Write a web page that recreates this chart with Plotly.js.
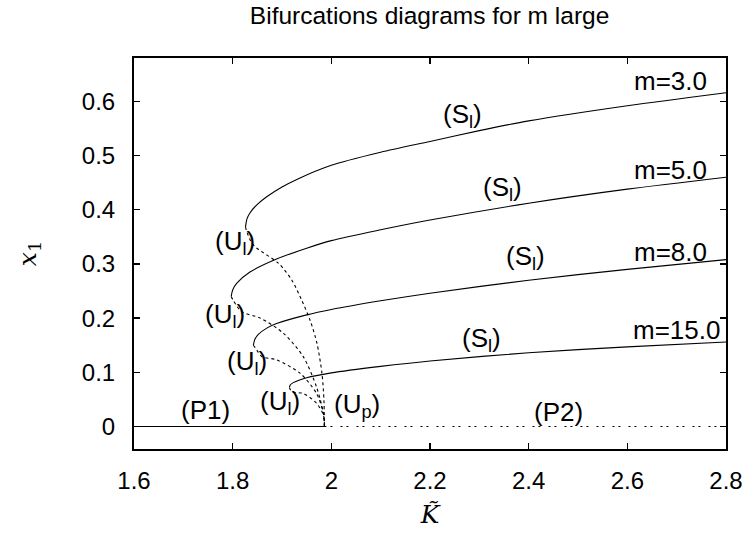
<!DOCTYPE html>
<html>
<head>
<meta charset="utf-8">
<script src="https://cdn.plot.ly/plotly-3.0.1.min.js"></script>
<style>html,body{margin:0;padding:0;background:#fff;}</style>
</head>
<body>
<div id="chart" style="width:753px;height:535px;"></div>
<script>
// Stable branches (S_l)
const K_S3  = [1.826, 1.829, 1.835, 1.850, 1.869, 1.900, 1.930, 2.000, 2.100, 2.200, 2.300, 2.400, 2.600, 2.800];
const X_S3  = [0.368, 0.383, 0.394, 0.410, 0.424, 0.442, 0.456, 0.482, 0.506, 0.526, 0.546, 0.564, 0.592, 0.616];
const K_S5  = [1.797, 1.800, 1.808, 1.835, 1.889, 1.950, 2.000, 2.100, 2.200, 2.400, 2.600, 2.800];
const X_S5  = [0.240, 0.252, 0.264, 0.285, 0.309, 0.329, 0.343, 0.363, 0.381, 0.412, 0.438, 0.460];
const K_S8  = [1.842, 1.845, 1.852, 1.870, 1.889, 1.950, 2.000, 2.100, 2.200, 2.400, 2.600, 2.800];
const X_S8  = [0.150, 0.161, 0.170, 0.182, 0.190, 0.206, 0.216, 0.232, 0.246, 0.270, 0.290, 0.308];
const K_S15 = [1.915, 1.917, 1.923, 1.950, 2.000, 2.100, 2.200, 2.400, 2.600, 2.800];
const X_S15 = [0.072, 0.077, 0.081, 0.090, 0.099, 0.111, 0.121, 0.136, 0.147, 0.156];

// Unstable branches (U_l)
const K_U3  = [1.826, 1.829, 1.835, 1.845, 1.893, 1.920, 1.940, 1.957, 1.971, 1.981, 1.985, 1.986];
const X_U3  = [0.368, 0.359, 0.345, 0.332, 0.301, 0.270, 0.233, 0.196, 0.153, 0.098, 0.049, 0.000];
const K_U5  = [1.797, 1.801, 1.818, 1.856, 1.903, 1.943, 1.970, 1.984, 1.986];
const X_U5  = [0.240, 0.233, 0.212, 0.200, 0.172, 0.129, 0.073, 0.024, 0.000];
const K_U8  = [1.842, 1.849, 1.859, 1.889, 1.937, 1.970, 1.984, 1.986];
const X_U8  = [0.150, 0.141, 0.129, 0.123, 0.098, 0.061, 0.024, 0.000];
const K_U15 = [1.915, 1.920, 1.943, 1.970, 1.984, 1.986];
const X_U15 = [0.072, 0.064, 0.061, 0.043, 0.021, 0.000];

// Trivial branches
const K_P1 = [1.6, 1.986];
const X_P1 = [0, 0];
const K_P2 = [1.986, 2.8];
const X_P2 = [0, 0];

// Text labels
const labelText = ['m=3.0', 'm=5.0', 'm=8.0', 'm=15.0',
  '(S<sub>l</sub>)', '(S<sub>l</sub>)', '(S<sub>l</sub>)', '(S<sub>l</sub>)',
  '(U<sub>l</sub>)', '(U<sub>l</sub>)', '(U<sub>l</sub>)', '(U<sub>l</sub>)',
  '(U<sub>p</sub>)', '(P1)', '(P2)'];
const labelK = [2.688, 2.688, 2.688, 2.700,
  2.265, 2.346, 2.393, 2.305,
  1.805, 1.785, 1.829, 1.896,
  2.052, 1.745, 2.460];
const labelX = [0.638, 0.473, 0.322, 0.178,
  0.573, 0.440, 0.311, 0.160,
  0.340, 0.204, 0.119, 0.045,
  0.038, 0.030, 0.027];

const solid = {color: '#000', width: 1.1, shape: 'spline', smoothing: 0.8};
const dotted = {color: '#000', width: 1.1, dash: 'dot', shape: 'spline', smoothing: 0.8};

function tr(x, y, line) {
  return {x: x, y: y, type: 'scatter', mode: 'lines', line: line, hoverinfo: 'skip', showlegend: false};
}

const data = [
  tr(K_S3, X_S3, solid), tr(K_S5, X_S5, solid), tr(K_S8, X_S8, solid), tr(K_S15, X_S15, solid),
  tr(K_U3, X_U3, dotted), tr(K_U5, X_U5, dotted), tr(K_U8, X_U8, dotted), tr(K_U15, X_U15, dotted),
  tr(K_P1, X_P1, {color: '#000', width: 1.1}),
  tr(K_P2, X_P2, {color: '#000', width: 1.1, dash: '2px,4px,2px,8px'})
];

const fontFam = '"Liberation Sans", Arial, Helvetica, sans-serif';

const annotations = labelText.map((t, i) => ({
  x: labelK[i], y: labelX[i], xref: 'x', yref: 'y', text: t, showarrow: false,
  font: {family: fontFam, size: 26, color: '#000'}, xanchor: 'center', yanchor: 'middle'
}));

const layout = {
  width: 753, height: 535,
  margin: {l: 134, r: 27, t: 58, b: 86},
  paper_bgcolor: '#fff', plot_bgcolor: '#fff',
  title: {text: 'Bifurcations diagrams for m large', font: {family: fontFam, size: 24.5, color: '#000'},
          x: 0.5705, xanchor: 'center', y: 0.988, yanchor: 'top'},
  xaxis: {
    range: [1.6, 2.8], tick0: 1.6, dtick: 0.2, ticks: 'inside', ticklen: 6, tickwidth: 1.5,
    tickcolor: '#000', mirror: 'allticks', showline: true, linecolor: '#000', linewidth: 2,
    showgrid: false, zeroline: false, ticklabelstandoff: 9,
    tickfont: {family: fontFam, size: 24, color: '#000'},
    title: {text: '<i>K\u0303</i>', font: {family: '"DejaVu Serif", "Liberation Serif", serif', size: 25, color: '#000'}, standoff: 13}
  },
  yaxis: {
    range: [-0.0415, 0.68], tick0: 0, dtick: 0.1, ticks: 'inside', ticklen: 6, tickwidth: 1.5,
    tickcolor: '#000', mirror: 'allticks', showline: true, linecolor: '#000', linewidth: 2,
    showgrid: false, zeroline: false, ticklabelstandoff: 12,
    tickfont: {family: fontFam, size: 24, color: '#000'},
    title: {text: '<i>x</i><sub>1</sub>', font: {family: '"DejaVu Serif", "Liberation Serif", serif', size: 25, color: '#000'}, standoff: 38}
  },
  annotations: annotations
};

Plotly.newPlot('chart', data, layout, {displayModeBar: false, staticPlot: true});
</script>
</body>
</html>
